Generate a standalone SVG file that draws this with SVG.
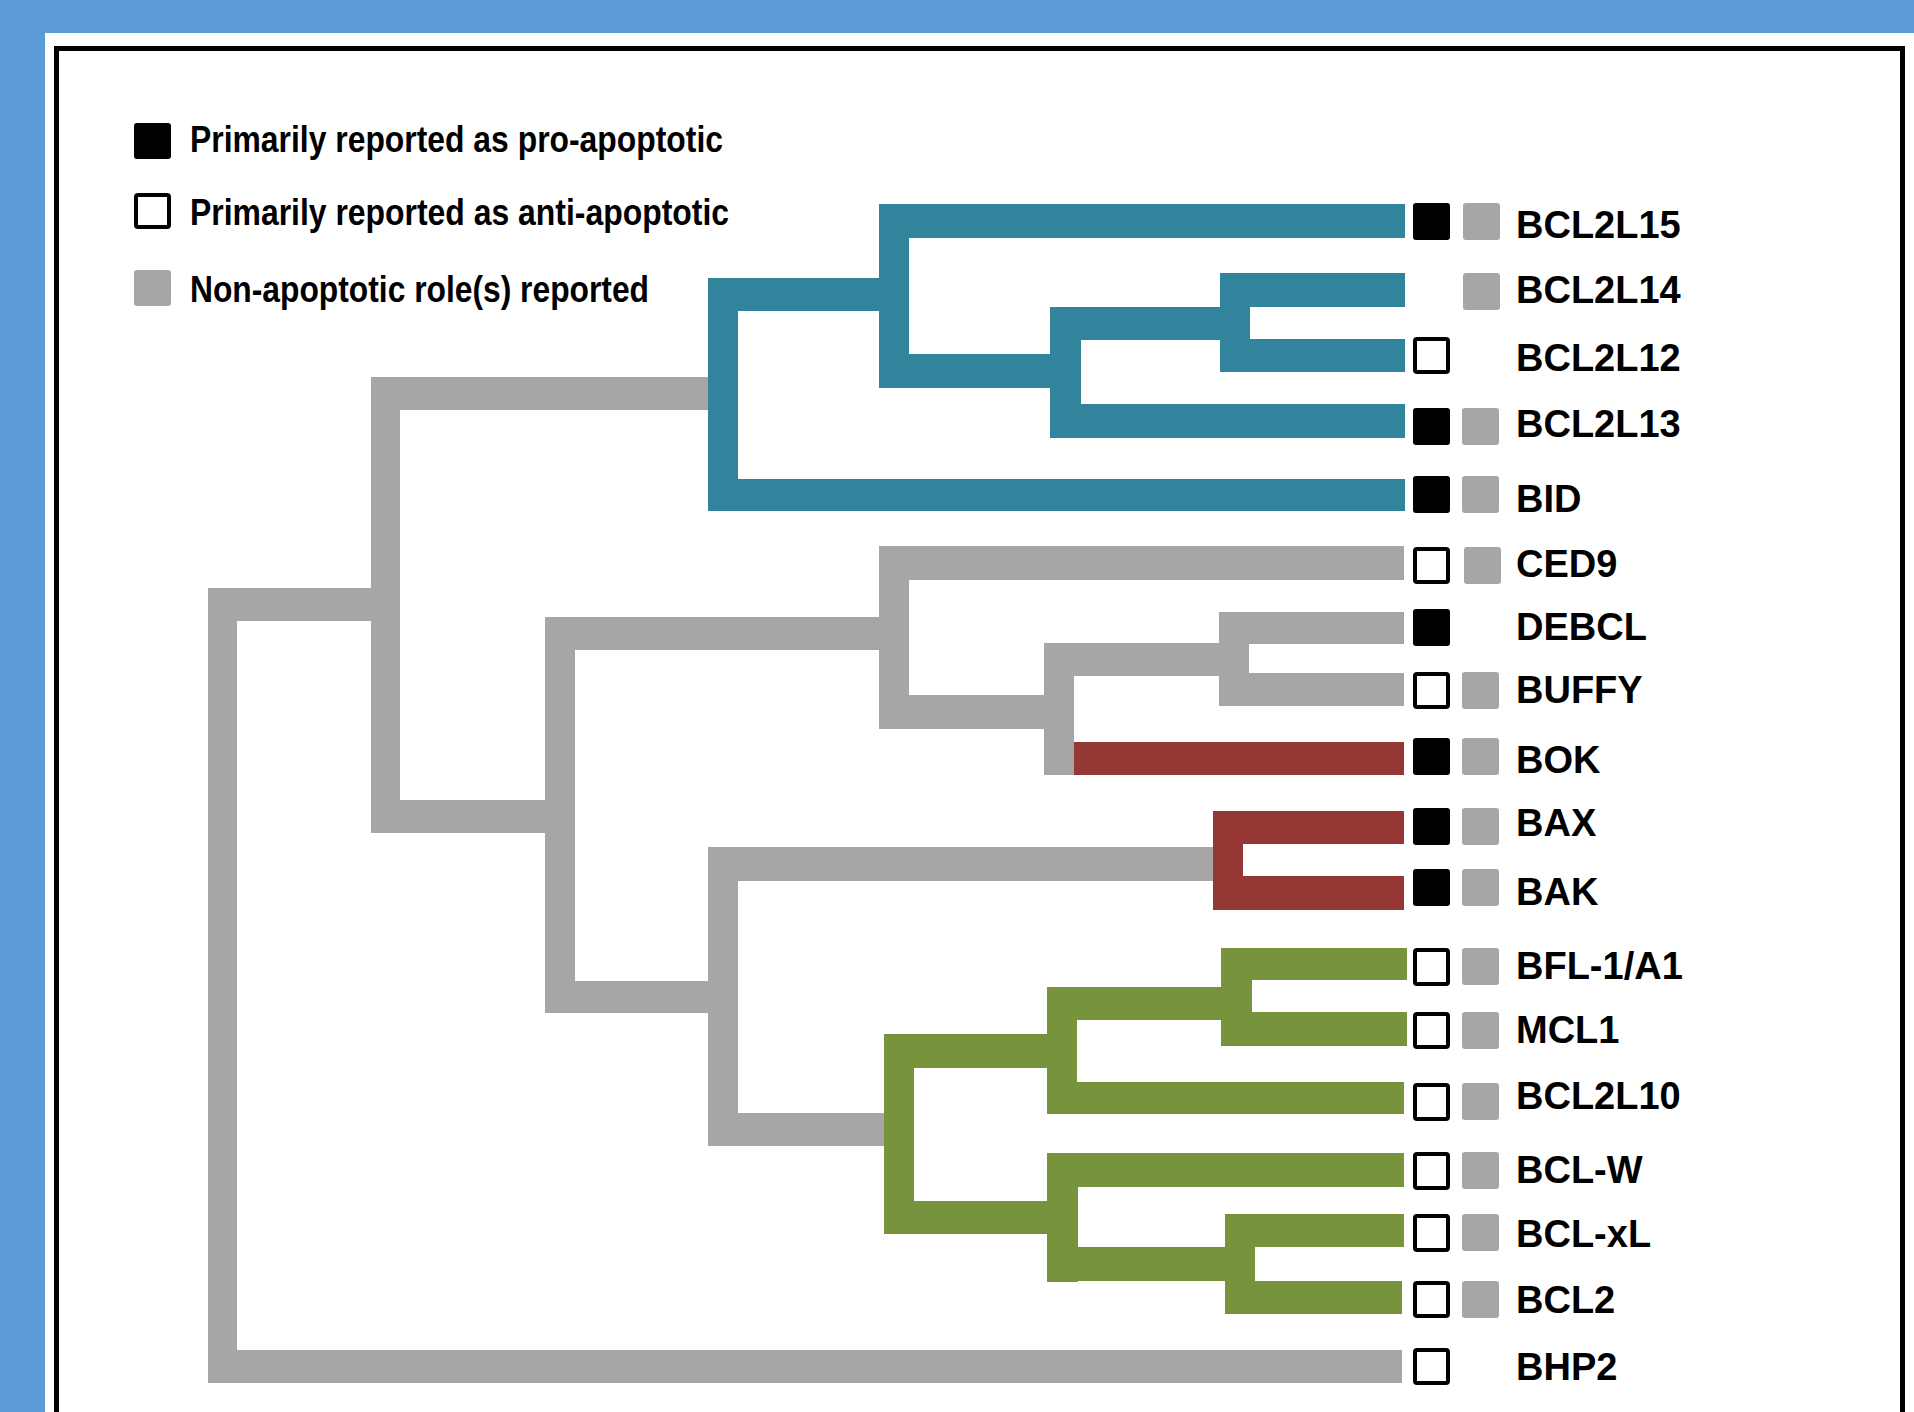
<svg xmlns="http://www.w3.org/2000/svg" width="1914" height="1412" viewBox="0 0 1914 1412">
<style>
.g{fill:#A6A6A6}.t{fill:#31849B}.r{fill:#953735}.v{fill:#77933C}
.pro{fill:#000}
.anti{fill:#fff;stroke:#000;stroke-width:4}
.non{fill:#A6A6A6}
.lbl{font-family:"Liberation Sans",Arial,sans-serif;font-weight:bold;font-size:38px;fill:#000}
.leg{font-family:"Liberation Sans",Arial,sans-serif;font-weight:bold;font-size:36px;fill:#000}
</style>
<rect x="0" y="0" width="1914" height="1412" fill="#5B9BD5"/>
<rect x="45" y="33" width="1869" height="1379" fill="#fff"/>
<rect x="56.5" y="48.5" width="1846" height="1400" fill="none" stroke="#000" stroke-width="5"/>

<g id="legend">
<rect class="pro" x="134" y="123" width="37" height="36" rx="3"/>
<text class="leg" x="190" y="152" textLength="533" lengthAdjust="spacingAndGlyphs">Primarily reported as pro-apoptotic</text>
<rect class="anti" x="136" y="195" width="33" height="32" rx="2"/>
<text class="leg" x="190" y="225" textLength="539" lengthAdjust="spacingAndGlyphs">Primarily reported as anti-apoptotic</text>
<rect class="non" x="134" y="270" width="37" height="36" rx="3"/>
<text class="leg" x="190" y="302" textLength="459" lengthAdjust="spacingAndGlyphs">Non-apoptotic role(s) reported</text>
</g>

<g id="connectors">
<!-- gray backbone -->
<rect class="g" x="208" y="588" width="29" height="795"/>
<rect class="g" x="208" y="588" width="163" height="33"/>
<rect class="g" x="208" y="1350" width="1194" height="33"/>
<rect class="g" x="371" y="377" width="29" height="456"/>
<rect class="g" x="371" y="377" width="337" height="33"/>
<rect class="g" x="371" y="800" width="174" height="33"/>
<rect class="g" x="545" y="617" width="30" height="396"/>
<rect class="g" x="545" y="617" width="334" height="33"/>
<rect class="g" x="545" y="981" width="163" height="32"/>
<rect class="g" x="879" y="546" width="30" height="183"/>
<rect class="g" x="879" y="546" width="525" height="34"/>
<rect class="g" x="879" y="695" width="165" height="34"/>
<rect class="g" x="1044" y="643" width="30" height="132"/>
<rect class="g" x="1044" y="643" width="175" height="33"/>
<rect class="g" x="1219" y="612" width="30" height="94"/>
<rect class="g" x="1219" y="612" width="185" height="32"/>
<rect class="g" x="1219" y="673" width="185" height="33"/>
<rect class="g" x="708" y="847" width="30" height="299"/>
<rect class="g" x="708" y="847" width="505" height="34"/>
<rect class="g" x="708" y="1113" width="176" height="33"/>
<!-- red -->
<rect class="r" x="1074" y="742" width="330" height="33"/>
<rect class="r" x="1213" y="811" width="30" height="99"/>
<rect class="r" x="1213" y="811" width="191" height="33"/>
<rect class="r" x="1213" y="876" width="191" height="34"/>
<!-- teal -->
<rect class="t" x="708" y="278" width="30" height="233"/>
<rect class="t" x="708" y="278" width="171" height="33"/>
<rect class="t" x="708" y="479" width="697" height="32"/>
<rect class="t" x="879" y="204" width="30" height="184"/>
<rect class="t" x="879" y="204" width="526" height="34"/>
<rect class="t" x="879" y="354" width="171" height="34"/>
<rect class="t" x="1050" y="307" width="31" height="131"/>
<rect class="t" x="1050" y="307" width="170" height="33"/>
<rect class="t" x="1050" y="404" width="355" height="34"/>
<rect class="t" x="1220" y="273" width="30" height="99"/>
<rect class="t" x="1220" y="273" width="185" height="34"/>
<rect class="t" x="1220" y="339" width="185" height="33"/>
<!-- green -->
<rect class="v" x="884" y="1034" width="30" height="200"/>
<rect class="v" x="884" y="1034" width="163" height="34"/>
<rect class="v" x="884" y="1201" width="163" height="33"/>
<rect class="v" x="1047" y="987" width="30" height="127"/>
<rect class="v" x="1047" y="987" width="174" height="33"/>
<rect class="v" x="1047" y="1082" width="357" height="32"/>
<rect class="v" x="1221" y="948" width="31" height="98"/>
<rect class="v" x="1221" y="948" width="186" height="32"/>
<rect class="v" x="1221" y="1012" width="186" height="34"/>
<rect class="v" x="1047" y="1153" width="31" height="129"/>
<rect class="v" x="1047" y="1153" width="357" height="34"/>
<rect class="v" x="1047" y="1247" width="178" height="34"/>
<rect class="v" x="1225" y="1214" width="30" height="100"/>
<rect class="v" x="1225" y="1214" width="179" height="33"/>
<rect class="v" x="1225" y="1281" width="177" height="33"/>
</g>

<g id="BCL2L15"><rect class="pro" x="1413" y="203" width="37" height="37" rx="3"/><rect class="non" x="1463" y="203" width="37" height="37" rx="3"/><text class="lbl" x="1516" y="238">BCL2L15</text></g>
<g id="BCL2L14"><rect class="non" x="1463" y="273" width="37" height="37" rx="3"/><text class="lbl" x="1516" y="303">BCL2L14</text></g>
<g id="BCL2L12"><rect class="anti" x="1415" y="339" width="33" height="33" rx="2"/><text class="lbl" x="1516" y="371">BCL2L12</text></g>
<g id="BCL2L13"><rect class="pro" x="1413" y="408" width="37" height="37" rx="3"/><rect class="non" x="1462" y="408" width="37" height="37" rx="3"/><text class="lbl" x="1516" y="437">BCL2L13</text></g>
<g id="BID"><rect class="pro" x="1413" y="476" width="37" height="37" rx="3"/><rect class="non" x="1462" y="476" width="37" height="37" rx="3"/><text class="lbl" x="1516" y="512">BID</text></g>
<g id="CED9"><rect class="anti" x="1415" y="549" width="33" height="33" rx="2"/><rect class="non" x="1464" y="547" width="37" height="37" rx="3"/><text class="lbl" x="1516" y="577">CED9</text></g>
<g id="DEBCL"><rect class="pro" x="1413" y="609" width="37" height="37" rx="3"/><text class="lbl" x="1516" y="640">DEBCL</text></g>
<g id="BUFFY"><rect class="anti" x="1415" y="674" width="33" height="33" rx="2"/><rect class="non" x="1462" y="672" width="37" height="37" rx="3"/><text class="lbl" x="1516" y="703">BUFFY</text></g>
<g id="BOK"><rect class="pro" x="1413" y="738" width="37" height="37" rx="3"/><rect class="non" x="1462" y="738" width="37" height="37" rx="3"/><text class="lbl" x="1516" y="773">BOK</text></g>
<g id="BAX"><rect class="pro" x="1413" y="808" width="37" height="37" rx="3"/><rect class="non" x="1462" y="808" width="37" height="37" rx="3"/><text class="lbl" x="1516" y="836">BAX</text></g>
<g id="BAK"><rect class="pro" x="1413" y="869" width="37" height="37" rx="3"/><rect class="non" x="1462" y="869" width="37" height="37" rx="3"/><text class="lbl" x="1516" y="905">BAK</text></g>
<g id="BFL-1_A1"><rect class="anti" x="1415" y="950" width="33" height="34" rx="2"/><rect class="non" x="1462" y="948" width="37" height="37" rx="3"/><text class="lbl" x="1516" y="979">BFL-1/A1</text></g>
<g id="MCL1"><rect class="anti" x="1415" y="1014" width="33" height="33" rx="2"/><rect class="non" x="1462" y="1012" width="37" height="37" rx="3"/><text class="lbl" x="1516" y="1043">MCL1</text></g>
<g id="BCL2L10"><rect class="anti" x="1415" y="1085" width="33" height="34" rx="2"/><rect class="non" x="1462" y="1083" width="37" height="37" rx="3"/><text class="lbl" x="1516" y="1109">BCL2L10</text></g>
<g id="BCL-W"><rect class="anti" x="1415" y="1154" width="33" height="34" rx="2"/><rect class="non" x="1462" y="1152" width="37" height="37" rx="3"/><text class="lbl" x="1516" y="1183">BCL-W</text></g>
<g id="BCL-xL"><rect class="anti" x="1415" y="1216" width="33" height="34" rx="2"/><rect class="non" x="1462" y="1214" width="37" height="37" rx="3"/><text class="lbl" x="1516" y="1247">BCL-xL</text></g>
<g id="BCL2"><rect class="anti" x="1415" y="1283" width="33" height="33" rx="2"/><rect class="non" x="1462" y="1281" width="37" height="37" rx="3"/><text class="lbl" x="1516" y="1313">BCL2</text></g>
<g id="BHP2"><rect class="anti" x="1415" y="1350" width="33" height="33" rx="2"/><text class="lbl" x="1516" y="1380">BHP2</text></g>
</svg>
